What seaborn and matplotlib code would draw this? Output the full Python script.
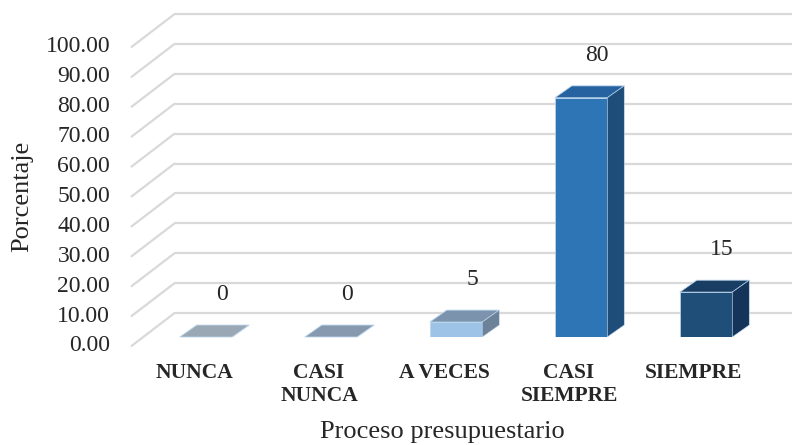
import numpy as np
import matplotlib
matplotlib.use("Agg")
import matplotlib.pyplot as plt
from matplotlib.patches import Polygon
import seaborn as sns

# ---- datos ----
categorias = ["NUNCA", "CASI\nNUNCA", "A VECES", "CASI\nSIEMPRE", "SIEMPRE"]
porcentajes = [0, 0, 5, 80, 15]
etiquetas = ["0", "0", "5", "80", "15"]
marcas_y = [0, 10, 20, 30, 40, 50, 60, 70, 80, 90, 100]

# colores de cada cara (frente, techo, lado)
colores_frente = ["#A5B3C2", "#8FA5BD", "#9DC3E6", "#2E75B6", "#1F4E79"]
colores_techo = ["#9AA7B5", "#8699AF", "#7C93AE", "#2762A0", "#183E63"]
colores_lado = ["#8A97A6", "#7A8CA0", "#6C8299", "#1F4D7A", "#15345A"]

sns.set_style("white")
plt.rcParams["font.family"] = ["Liberation Serif", "DejaVu Serif"]

fig = plt.figure(figsize=(7.92, 4.45), dpi=100)
ax = fig.add_axes([143.5 / 792, (445 - 337) / 445, 625 / 792, 299 / 445])

# desplazamientos de perspectiva (en unidades de datos)
prof_x, prof_y = 0.136, 4.0      # profundidad de la barra
fondo_x, fondo_y = 0.248, 8.0    # pared del fondo
frente_x, frente_y = -0.096, -3.0  # plano frontal (etiquetas)

# ======================================
# PARED DEL FONDO Y LINEAS DIAGONALES
# ======================================
gris = "#D9D9D9"
for v in marcas_y:
    ax.plot([-0.5 + fondo_x, 4.5 + fondo_x], [v + fondo_y, v + fondo_y],
            color=gris, lw=1.6, zorder=0, clip_on=False)
    ax.plot([-0.5 + frente_x, -0.5 + fondo_x], [v + frente_y, v + fondo_y],
            color=gris, lw=1.6, zorder=0, clip_on=False)
    ax.text(-0.5 + frente_x - 0.17, v + frente_y, f"{v:.2f}",
            ha="right", va="center", fontsize=17)

# ======================================
# BARRAS
# ======================================
sns.barplot(x=categorias, y=porcentajes, hue=categorias, palette=colores_frente,
            width=0.42, saturation=1, legend=False, ax=ax, zorder=2)

for i, p in enumerate(ax.patches):
    x0, w, h = p.get_x(), p.get_width(), p.get_height()
    p.set_edgecolor("#BDD7EE")
    p.set_linewidth(0.5)
    techo = Polygon([(x0, h), (x0 + w, h), (x0 + w + prof_x, h + prof_y),
                     (x0 + prof_x, h + prof_y)], closed=True,
                    facecolor=colores_techo[i], edgecolor="#BDD7EE", lw=0.6,
                    zorder=2, clip_on=False)
    lado = Polygon([(x0 + w, 0), (x0 + w + prof_x, prof_y),
                    (x0 + w + prof_x, h + prof_y), (x0 + w, h)], closed=True,
                   facecolor=colores_lado[i], edgecolor="#BDD7EE", lw=0.4,
                   zorder=2, clip_on=False)
    ax.add_patch(techo)
    ax.add_patch(lado)
    ax.text(i + 0.128, porcentajes[i] + 14.3, etiquetas[i],
            ha="center", va="center", fontsize=17)

# etiquetas de categoria en el plano frontal
for i, c in enumerate(categorias):
    ax.text(i + frente_x, -8.7, c, ha="center", va="top", fontsize=15.5,
            fontweight="bold", linespacing=1.2)

ax.set_xlim(-0.5, 4.5)
ax.set_ylim(0, 100)
ax.set_xticks([])
ax.set_yticks([])
sns.despine(ax=ax, left=True, bottom=True)

ax.set_xlabel("Proceso presupuestario", fontsize=19)
ax.xaxis.label.set_va("center")
ax.xaxis.set_label_coords(0.479, -0.318)
ax.set_ylabel("Porcentaje", fontsize=19)
ax.yaxis.label.set_va("center")
ax.yaxis.set_label_coords(-0.1944, 0.4716)

fig.savefig("out.png", dpi=100)
